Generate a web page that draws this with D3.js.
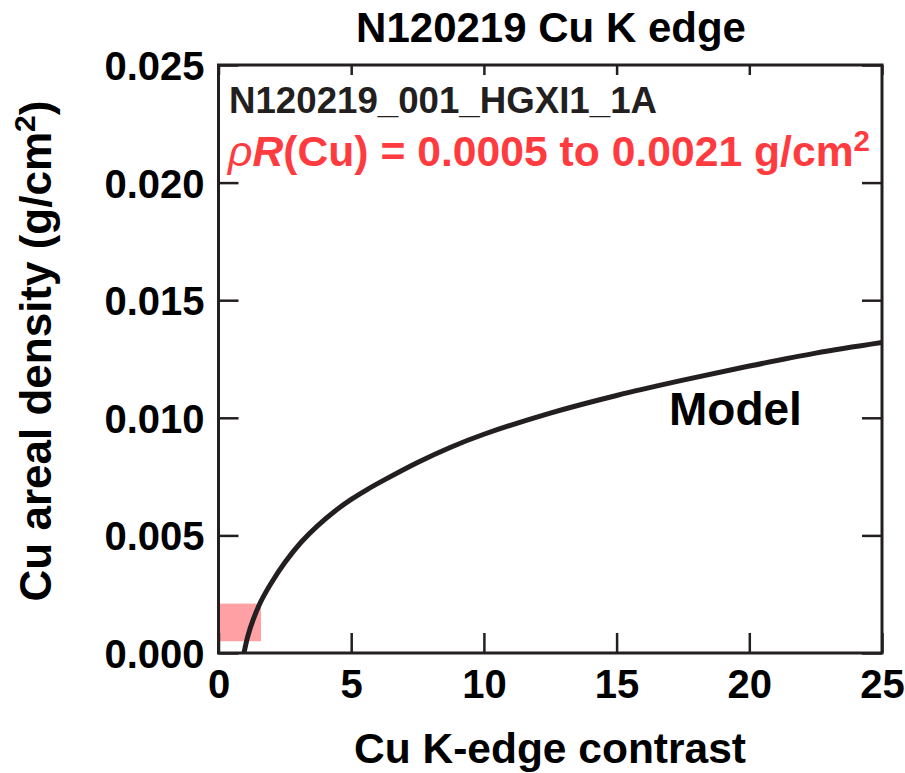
<!DOCTYPE html>
<html>
<head>
<meta charset="utf-8">
<script src="https://cdn.jsdelivr.net/npm/d3@7"></script>
<style>
  html, body { margin: 0; padding: 0; background: #fff; }
  svg { display: block; font-family: "Liberation Sans", Arial, Helvetica, sans-serif; }
</style>
</head>
<body>
<div id="chart"></div>
<script>
// ---- data ----
const contrast = [0.96, 1.1, 1.3, 1.6, 2.0, 2.5, 3.12, 3.75, 4.37, 5.0, 5.6, 6.25, 7.5, 8.75, 10, 12.5, 15, 17.5, 20, 22.5, 25];
const density  = [0, 0.0007, 0.0014, 0.0022, 0.0030, 0.00385, 0.00472, 0.00543, 0.00602, 0.00653, 0.00695, 0.00736, 0.0081, 0.00875, 0.0093, 0.0102, 0.01095, 0.0116, 0.0122, 0.01275, 0.0132];
const bandContrast = [0, 1.6];
const bandDensity = [0.0005, 0.0021];
const xTicks = [0, 5, 10, 15, 20, 25];
const yTicks = [0, 0.005, 0.010, 0.015, 0.020, 0.025];
const titleText = "N120219 Cu K edge";
const shotText = "N120219_001_HGXI1_1A";
const modelLabel = "Model";
const xLabel = "Cu K-edge contrast";

const W = 905, H = 773;
const m = { left: 218.5, right: 882, top: 65, bottom: 653 };
const ink = "#231f20";
const red = "#ff3b3f";

const svg = d3.select("#chart").append("svg").attr("width", W).attr("height", H);

const x = d3.scaleLinear().domain([0, 25]).range([m.left, m.right]);
const y = d3.scaleLinear().domain([0, 0.025]).range([m.bottom, m.top]);

// band
svg.append("rect")
  .attr("x", x(bandContrast[0])).attr("y", y(bandDensity[1]))
  .attr("width", x(bandContrast[1]) - x(bandContrast[0]))
  .attr("height", y(bandDensity[0]) - y(bandDensity[1]))
  .attr("fill", "#ffa0a4");

// model curve
const pts = contrast.map((c, i) => [c, density[i]]);
svg.append("clipPath").attr("id", "clip").append("rect")
  .attr("x", m.left).attr("y", m.top).attr("width", m.right - m.left).attr("height", m.bottom - m.top);
svg.append("path")
  .datum(pts)
  .attr("clip-path", "url(#clip)")
  .attr("fill", "none").attr("stroke", ink).attr("stroke-width", 5)
  .attr("d", d3.line().x(d => x(d[0])).y(d => y(d[1])).curve(d3.curveCatmullRom.alpha(0.5)));

// axes (ticks inward)
const fmtY = d3.format(".3f");
const bottomAxis = d3.axisBottom(x).tickValues(xTicks).tickSizeInner(-20).tickSizeOuter(0).tickPadding(0).tickFormat(d3.format("d"));
const topAxis = d3.axisTop(x).tickValues(xTicks).tickSizeInner(-10).tickSizeOuter(0).tickFormat("");
const leftAxis = d3.axisLeft(y).tickValues(yTicks).tickSizeInner(-20).tickSizeOuter(0).tickPadding(0).tickFormat(fmtY);
const rightAxis = d3.axisRight(y).tickValues(yTicks).tickSizeInner(-20).tickSizeOuter(0).tickFormat("");

function style(g) {
  g.select(".domain").remove();
  g.selectAll(".tick line").attr("stroke", ink).attr("stroke-width", 2.5);
}

const gB = svg.append("g").attr("transform", `translate(0,${m.bottom})`).call(bottomAxis).call(style);
gB.selectAll(".tick text").attr("font-size", 40).attr("font-weight", "bold").attr("fill", "#000")
  .attr("dy", null).attr("y", 45).attr("font-family", "Liberation Sans, Arial, sans-serif");
svg.append("g").attr("transform", `translate(0,${m.top})`).call(topAxis).call(style);
const gL = svg.append("g").attr("transform", `translate(${m.left},0)`).call(leftAxis).call(style);
gL.selectAll(".tick text").attr("font-size", 40).attr("font-weight", "bold").attr("fill", "#000")
  .attr("x", -14).attr("dy", "0.36em").attr("font-family", "Liberation Sans, Arial, sans-serif");
svg.append("g").attr("transform", `translate(${m.right},0)`).call(rightAxis).call(style);

// frame
svg.append("rect")
  .attr("x", m.left).attr("y", m.top).attr("width", m.right - m.left).attr("height", m.bottom - m.top)
  .attr("fill", "none").attr("stroke", ink).attr("stroke-width", 3);

// title
svg.append("text").attr("x", 551).attr("y", 42).attr("text-anchor", "middle")
  .attr("font-size", 42).attr("font-weight", "bold").attr("fill", "#000").text(titleText);

// shot label
svg.append("text").attr("x", 229).attr("y", 113)
  .attr("font-size", 36).attr("font-weight", "bold").attr("fill", "#231f20")
  .attr("textLength", 428).attr("lengthAdjust", "spacingAndGlyphs").text(shotText);

// rho R label
const rt = svg.append("text").attr("x", 228).attr("y", 166).attr("font-size", 42).attr("fill", red).attr("font-weight", "bold")
  .attr("textLength", 642).attr("lengthAdjust", "spacingAndGlyphs");
rt.append("tspan").attr("font-style", "italic").attr("font-weight", "normal").text("ρ");
rt.append("tspan").attr("font-style", "italic").text("R");
rt.append("tspan").text("(Cu) = 0.0005 to 0.0021 g/cm");
rt.append("tspan").attr("font-size", 29).attr("dy", -15).text("2");

// model label
svg.append("text").attr("x", 669).attr("y", 425).attr("font-size", 46).attr("font-weight", "bold").attr("fill", "#000").text(modelLabel);

// axis labels
svg.append("text").attr("x", 550).attr("y", 763).attr("text-anchor", "middle")
  .attr("font-size", 42.5).attr("font-weight", "bold").attr("fill", "#000").text(xLabel);

const yl = svg.append("text").attr("transform", "translate(51,351) rotate(-90)").attr("text-anchor", "middle")
  .attr("font-size", 44).attr("font-weight", "bold").attr("fill", "#000");
yl.append("tspan").text("Cu areal density (g/cm");
yl.append("tspan").attr("font-size", 30).attr("dy", -16).text("2");
yl.append("tspan").attr("dy", 16).text(")");
</script>
</body>
</html>
